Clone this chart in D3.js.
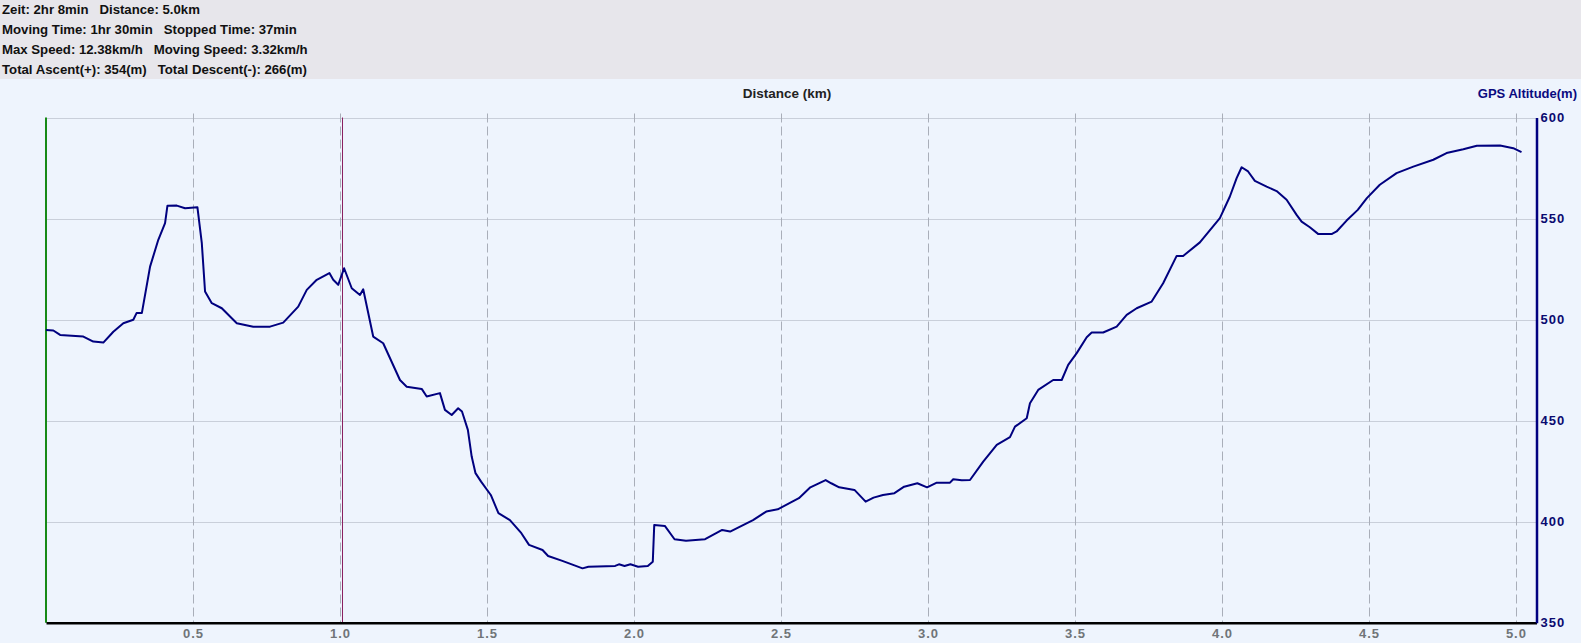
<!DOCTYPE html>
<html>
<head>
<meta charset="utf-8">
<script src="https://cdn.jsdelivr.net/npm/d3@7"></script>
<style>
  html, body { margin: 0; padding: 0; background: #eef4fd; overflow: hidden; }
  svg { display: block; font-family: "Liberation Sans", Arial, sans-serif; }
  text { white-space: pre; }
</style>
</head>
<body>
<svg id="chart"></svg>
<script>
// summary lines shown in the grey header
const summaryLines = [
  "Zeit: 2hr 8min   Distance: 5.0km",
  "Moving Time: 1hr 30min   Stopped Time: 37min",
  "Max Speed: 12.38km/h   Moving Speed: 3.32km/h",
  "Total Ascent(+): 354(m)   Total Descent(-): 266(m)"
];

// track profile: distance (km) / altitude (m)
const distanceKm = [
  0.000, 0.025, 0.048, 0.127, 0.161, 0.195, 0.229, 0.263, 0.297, 0.308,
  0.326, 0.354, 0.382, 0.405, 0.413, 0.445, 0.473, 0.515, 0.530, 0.541,
  0.564, 0.598, 0.649, 0.705, 0.762, 0.807, 0.858, 0.887, 0.921, 0.964,
  0.977, 0.994, 1.014, 1.040, 1.068, 1.079, 1.113, 1.147, 1.204, 1.227,
  1.278, 1.295, 1.340, 1.357, 1.380, 1.402, 1.415, 1.435, 1.448, 1.461,
  1.480, 1.513, 1.539, 1.578, 1.617, 1.643, 1.689, 1.708, 1.754, 1.793,
  1.825, 1.845, 1.936, 1.949, 1.968, 1.988, 2.014, 2.047, 2.064, 2.069,
  2.105, 2.138, 2.177, 2.242, 2.300, 2.327, 2.405, 2.450, 2.489, 2.561,
  2.600, 2.652, 2.671, 2.698, 2.750, 2.788, 2.815, 2.847, 2.886, 2.919,
  2.964, 2.997, 3.030, 3.075, 3.086, 3.115, 3.143, 3.188, 3.234, 3.279,
  3.296, 3.336, 3.347, 3.375, 3.426, 3.455, 3.477, 3.506, 3.540, 3.557,
  3.596, 3.642, 3.676, 3.710, 3.761, 3.800, 3.846, 3.868, 3.925, 3.993,
  4.027, 4.050, 4.067, 4.089, 4.112, 4.152, 4.186, 4.220, 4.254, 4.271,
  4.299, 4.328, 4.373, 4.390, 4.424, 4.462, 4.493, 4.537, 4.594, 4.651,
  4.719, 4.764, 4.821, 4.867, 4.946, 4.991, 5.019
];
const altitudeM = [
  494.9, 494.6, 492.4, 491.6, 489.1, 488.6, 494.0, 498.2, 499.9, 503.2,
  503.2, 526.2, 539.5, 547.7, 556.3, 556.4, 555.1, 555.6, 537.8, 513.9,
  508.1, 505.6, 498.2, 496.5, 496.5, 498.5, 506.4, 514.7, 519.7, 523.0,
  519.7, 517.2, 525.4, 515.5, 512.2, 515.0, 491.6, 488.3, 470.1, 466.8,
  465.7, 461.9, 463.6, 455.3, 452.8, 456.1, 454.5, 445.4, 432.2, 424.0,
  419.8, 413.2, 404.2, 400.8, 394.3, 388.5, 386.0, 383.0, 380.7, 378.6,
  376.9, 377.7, 378.1, 378.9, 378.1, 378.9, 377.7, 378.1, 380.2, 398.4,
  397.9, 391.3, 390.6, 391.3, 395.9, 395.1, 400.8, 405.0, 406.1, 411.6,
  417.0, 420.6, 419.0, 417.0, 415.7, 409.9, 411.9, 413.2, 414.1, 417.3,
  419.0, 417.0, 419.3, 419.3, 421.0, 420.5, 420.6, 429.7, 438.0, 441.8,
  447.0, 451.2, 458.6, 465.2, 470.1, 470.1, 477.6, 483.4, 491.3, 493.6,
  493.6, 496.5, 502.3, 505.6, 508.9, 518.0, 531.5, 531.5, 538.2, 550.2,
  560.9, 570.0, 575.4, 573.3, 568.6, 565.8, 563.6, 559.3, 551.8, 548.5,
  545.7, 542.3, 542.3, 543.6, 549.0, 554.3, 560.1, 566.7, 572.5, 575.7,
  579.1, 582.4, 584.3, 586.0, 586.1, 584.8, 582.9
];

const distanceTicks = [0.5, 1.0, 1.5, 2.0, 2.5, 3.0, 3.5, 4.0, 4.5, 5.0];
const altitudeTicks = [350, 400, 450, 500, 550, 600];
const cursorKm = 1.007;   // the purple marker line

const width = 1581, height = 643;
const headerH = 79;
const plot = { left: 46, right: 1536.5, top: 117.5, bottom: 622.7 };

const svg = d3.select('#chart').attr('width', width).attr('height', height);

const x = d3.scaleLinear().domain([0, 5.07]).range([plot.left, plot.right]);
const y = d3.scaleLinear().domain([350, 600]).range([plot.bottom, plot.top]);

// header
svg.append('rect').attr('width', width).attr('height', headerH).attr('fill', '#e7e6eb');
svg.append('rect').attr('y', headerH).attr('width', width).attr('height', height - headerH).attr('fill', '#eef4fd');
svg.append('g').selectAll('text').data(summaryLines).join('text')
    .attr('x', 2)
    .attr('y', (d, i) => 13.5 + i * 20)
    .attr('font-size', 13.2).attr('font-weight', 'bold').attr('fill', '#111')
    .text(d => d);

// grid
svg.append('g').selectAll('line').data(altitudeTicks.filter(t => t > 350)).join('line')
    .attr('x1', plot.left).attr('x2', plot.right)
    .attr('y1', d => Math.round(y(d)) + 0.5).attr('y2', d => Math.round(y(d)) + 0.5)
    .attr('stroke', '#c9cfda').attr('stroke-width', 1);

svg.append('g').selectAll('line').data(distanceTicks).join('line')
    .attr('x1', d => Math.round(x(d)) + 0.5).attr('x2', d => Math.round(x(d)) + 0.5)
    .attr('y1', plot.top - 4).attr('y2', plot.bottom)
    .attr('stroke', '#a9aeb9').attr('stroke-width', 1)
    .attr('stroke-dasharray', '9,4');

// axis titles
svg.append('text').attr('x', 787).attr('y', 97.5)
    .attr('text-anchor', 'middle').attr('font-size', 13.5).attr('font-weight', 'bold')
    .attr('fill', '#222').text('Distance (km)');
svg.append('text').attr('x', 1577).attr('y', 97.5)
    .attr('text-anchor', 'end').attr('font-size', 13).attr('font-weight', 'bold')
    .attr('fill', '#0a0a80').text('GPS Altitude(m)');

// left start marker and cursor
svg.append('line')
    .attr('x1', x(0)).attr('x2', x(0)).attr('y1', plot.top).attr('y2', plot.bottom)
    .attr('stroke', '#178a17').attr('stroke-width', 2);
svg.append('line')
    .attr('x1', Math.round(x(cursorKm)) + 0.5).attr('x2', Math.round(x(cursorKm)) + 0.5)
    .attr('y1', plot.top).attr('y2', plot.bottom)
    .attr('stroke', '#8a2060').attr('stroke-width', 1);

// profile line
const profile = distanceKm.map((d, i) => ({ km: d, alt: altitudeM[i] }));
const line = d3.line().x(d => x(d.km)).y(d => y(d.alt));
svg.append('path').datum(profile)
    .attr('d', line)
    .attr('fill', 'none')
    .attr('stroke', '#00007f').attr('stroke-width', 2)
    .attr('stroke-linejoin', 'round');

// bottom axis
const xAxis = d3.axisBottom(x).tickValues(distanceTicks).tickSize(0).tickPadding(6)
    .tickFormat(d3.format('.1f'));
const gx = svg.append('g').attr('transform', `translate(0,${plot.bottom})`).call(xAxis);
gx.select('.domain').attr('stroke', '#000').attr('stroke-width', 2.5);
gx.selectAll('text').attr('font-size', 13).attr('font-weight', 'bold').attr('fill', '#707478')
    .attr('letter-spacing', 1)
    .attr('font-family', '"Liberation Sans", Arial, sans-serif');

// right axis
const yAxis = d3.axisRight(y).tickValues(altitudeTicks).tickSize(0).tickPadding(4);
const gy = svg.append('g').attr('transform', `translate(${plot.right},0)`).call(yAxis);
gy.select('.domain').attr('stroke', '#000080').attr('stroke-width', 2.5);
gy.selectAll('text').attr('font-size', 13).attr('font-weight', 'bold').attr('fill', '#0a0a70')
    .attr('letter-spacing', 1)
    .attr('font-family', '"Liberation Sans", Arial, sans-serif');
</script>
</body>
</html>
